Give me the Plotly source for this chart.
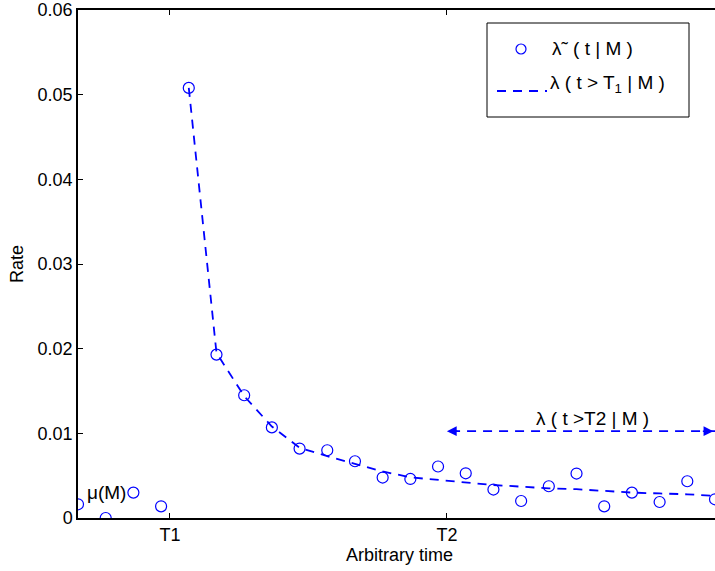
import plotly.graph_objects as go

# ---- data ----
obs_t = list(range(24))
obs_rate = [0.00162, 0.0000, 0.0030, 0.00138, 0.0508, 0.0193, 0.0145, 0.0107,
            0.0082, 0.0080, 0.0067, 0.00478, 0.00461, 0.00608, 0.00528, 0.00336,
            0.00201, 0.00375, 0.00525, 0.00138, 0.0030, 0.00189, 0.00434, 0.00221]
model_t = list(range(4, 24))
model_rate = [0.0508, 0.0195, 0.0144, 0.0108, 0.0083, 0.0073, 0.0064, 0.0055,
              0.0048, 0.0045, 0.0042, 0.0039, 0.0037, 0.0035, 0.0034, 0.0032,
              0.0030, 0.0029, 0.0028, 0.0026]
T1, T2 = 3.32, 13.32
x_ticks = [T1, T2]
x_tick_labels = ["T1", "T2"]
y_ticks = [0, 0.01, 0.02, 0.03, 0.04, 0.05, 0.06]
y_tick_labels = ["0", "0.01", "0.02", "0.03", "0.04", "0.05", "0.06"]
arrow_level = 0.01025
x_end = 23.0

BLUE = "#0000ff"
FONT = "Liberation Sans, Arial, sans-serif"
W, H = 715, 571
ML, MR, MT, MB = 78, 0, 10, 53
PW, PH = W - ML - MR, H - MT - MB
TXT = 19
DASH = "9px,7px"


def px(x):
    return (x - ML) / PW


def py(y):
    return (H - MB - y) / PH


fig = go.Figure()
fig.add_trace(go.Scatter(x=model_t, y=model_rate, mode="lines",
                         line=dict(color=BLUE, width=1.8, dash=DASH),
                         showlegend=False, hoverinfo="skip"))
fig.add_trace(go.Scatter(x=obs_t, y=obs_rate, mode="markers",
                         marker=dict(symbol="circle-open", size=11, color=BLUE,
                                     line=dict(width=1.2, color=BLUE)),
                         showlegend=False))
# double arrow line
fig.add_trace(go.Scatter(x=[T2 + 0.15, x_end], y=[arrow_level, arrow_level], mode="lines",
                         line=dict(color=BLUE, width=1.8, dash=DASH),
                         showlegend=False, hoverinfo="skip", cliponaxis=False))


def txt(x, y, text, size=TXT, ref="paper", angle=0, xanchor="center"):
    return dict(x=x, y=y, xref=ref, yref=ref, text=text, showarrow=False,
                xanchor=xanchor, yanchor="middle", textangle=angle,
                font=dict(size=size, color="black", family=FONT))


annotations = [
    dict(x=T2, y=arrow_level, ax=12, ay=0, xref="x", yref="y", text="",
         showarrow=True, arrowhead=2, arrowsize=1.3, arrowwidth=1.5, arrowcolor=BLUE),
    dict(x=x_end - 0.06, y=arrow_level, ax=-12, ay=0, xref="x", yref="y", text="",
         showarrow=True, arrowhead=2, arrowsize=1.3, arrowwidth=1.5, arrowcolor=BLUE),
    txt(18.56, 0.01178, "λ ( t >T2 | M )", ref="x"),
    txt(1.03, 0.00304, "μ(M)", ref="x"),
    txt(px(399), py(555), "Arbitrary time", size=18),
    txt(px(17), py(264), "Rate", size=18, angle=-90),
    # legend texts
    txt(px(550), py(49), "λ˜ ( t | M )", xanchor="left"),
    txt(px(548), py(84), "λ ( t > T<sub>1</sub> | M )", xanchor="left"),
]
annotations[2]["yref"] = "y"
annotations[3]["yref"] = "y"

shapes = [
    dict(type="rect", xref="paper", yref="paper", x0=px(487), x1=px(689),
         y0=py(117), y1=py(23), line=dict(color="black", width=1),
         fillcolor="white", layer="above"),
    dict(type="line", xref="paper", yref="paper", x0=px(497), x1=px(547),
         y0=py(91), y1=py(91), line=dict(color=BLUE, width=1.8, dash=DASH),
         layer="above"),
    dict(type="circle", xref="paper", yref="paper", xsizemode="pixel", ysizemode="pixel",
         xanchor=px(521), yanchor=py(49), x0=-5, x1=5, y0=-5, y1=5,
         line=dict(color=BLUE, width=1.2), layer="above"),
]

fig.update_layout(
    width=W, height=H,
    margin=dict(l=ML, r=MR, t=MT, b=MB),
    paper_bgcolor="white", plot_bgcolor="white",
    font=dict(family=FONT, size=18, color="black"),
    annotations=annotations, shapes=shapes,
    xaxis=dict(range=[0, x_end], tickvals=x_ticks, ticktext=x_tick_labels,
               ticks="inside", ticklen=5, tickcolor="black", showline=True,
               linecolor="black", linewidth=1.5, mirror="ticks", showgrid=False,
               zeroline=False, tickfont=dict(size=18)),
    yaxis=dict(range=[0, 0.06], tickvals=y_ticks, ticktext=y_tick_labels,
               ticks="inside", ticklen=5, tickcolor="black", showline=True,
               linecolor="black", linewidth=1.5, mirror=False, showgrid=False,
               zeroline=False, tickfont=dict(size=18)),
    showlegend=False,
)

fig.write_html("out.html", config={"displayModeBar": False},
               post_script="document.body.style.margin='0';")
